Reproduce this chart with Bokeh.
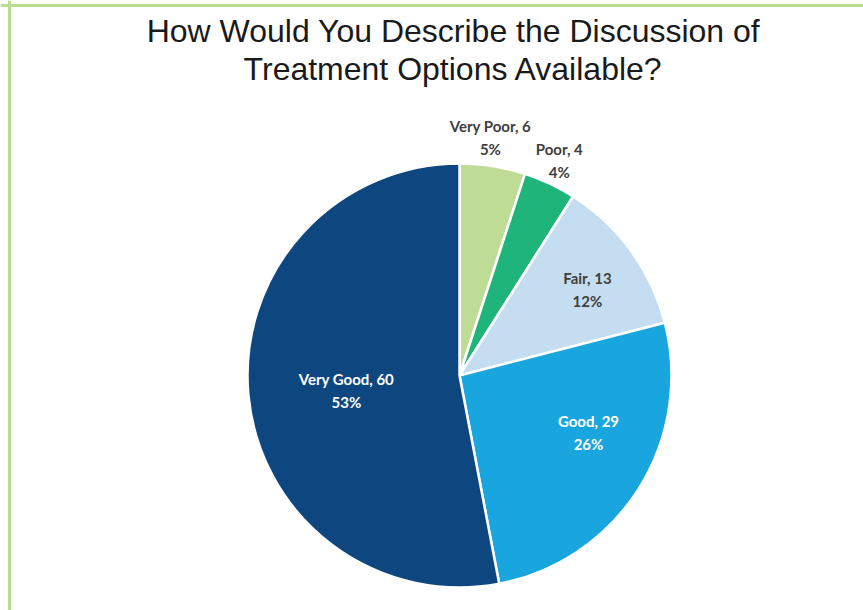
import numpy as np
from bokeh.plotting import figure
from bokeh.models import Span, ColumnDataSource, Range1d
from bokeh.core.properties import value
from bokeh.embed import file_html
from bokeh.resources import INLINE

# ---- data ----
categories = ["Very Poor", "Poor", "Fair", "Good", "Very Good"]
counts = [6, 4, 13, 29, 60]
percents = [5, 4, 12, 26, 53]
title_lines = ["How Would You Describe the Discussion of", "Treatment Options Available?"]

# ---- style ----
colors = ["#bfdc97", "#1fb47a", "#c5ddf1", "#19a6de", "#0e477f"]
label_colors = ["#404040", "#404040", "#404040", "#ffffff", "#ffffff"]
label_r = [1.132, 1.118, 0.727, 0.665, 0.538]
label_dang_cw = [-1.6, -0.3, 2.1, -8.6, -2.2]   # clockwise offsets in degrees

W, H = 863, 610
cx, cy, R = 459, H - 375, 212

vals = np.array(percents, dtype=float)
frac = vals / vals.sum()
cum_end = np.cumsum(frac)
cum_start = cum_end - frac
start_angle = np.pi / 2 - 2 * np.pi * cum_end
end_angle = np.pi / 2 - 2 * np.pi * cum_start
mid = (start_angle + end_angle) / 2 - np.radians(label_dang_cw)
lx = cx + np.array(label_r) * R * np.cos(mid)
ly = cy + np.array(label_r) * R * np.sin(mid)

src = ColumnDataSource(dict(
    cat=categories, start=start_angle, end=end_angle, color=colors,
    lx=lx, ly=ly,
    label=[f"{c}, {n}\n{pct}%" for c, n, pct in zip(categories, counts, percents)],
    lcolor=label_colors,
))

p = figure(width=W, height=H, x_range=Range1d(0, W), y_range=Range1d(0, H),
           x_axis_type=None, y_axis_type=None, output_backend="svg",
           toolbar_location=None, min_border=0)
p.grid.visible = False
p.outline_line_color = None
p.background_fill_color = "white"
p.border_fill_color = "white"

p.wedge(x=cx, y=cy, radius=R, start_angle="start", end_angle="end",
        fill_color="color", line_color="white", line_width=2.5, source=src)

p.text(x="lx", y="ly", text="label", source=src, text_color="lcolor",
       text_font=value("Lato"), text_font_style="bold", text_font_size="15px",
       text_align="center", text_baseline="middle", text_line_height=1.3)

p.text(x=[453, 453], y=[H - 30, H - 68], text=title_lines,
       text_font=value("Liberation Sans"), text_font_size="32px",
       text_align="center", text_baseline="middle", text_color="#1a1a1a")

p.add_layout(Span(location=H - 5, dimension="width", line_color="#b9dc8f", line_width=3))
p.add_layout(Span(location=9, dimension="height", line_color="#b9dc8f", line_width=3))

open("out.html", "w").write(file_html(p, INLINE))
